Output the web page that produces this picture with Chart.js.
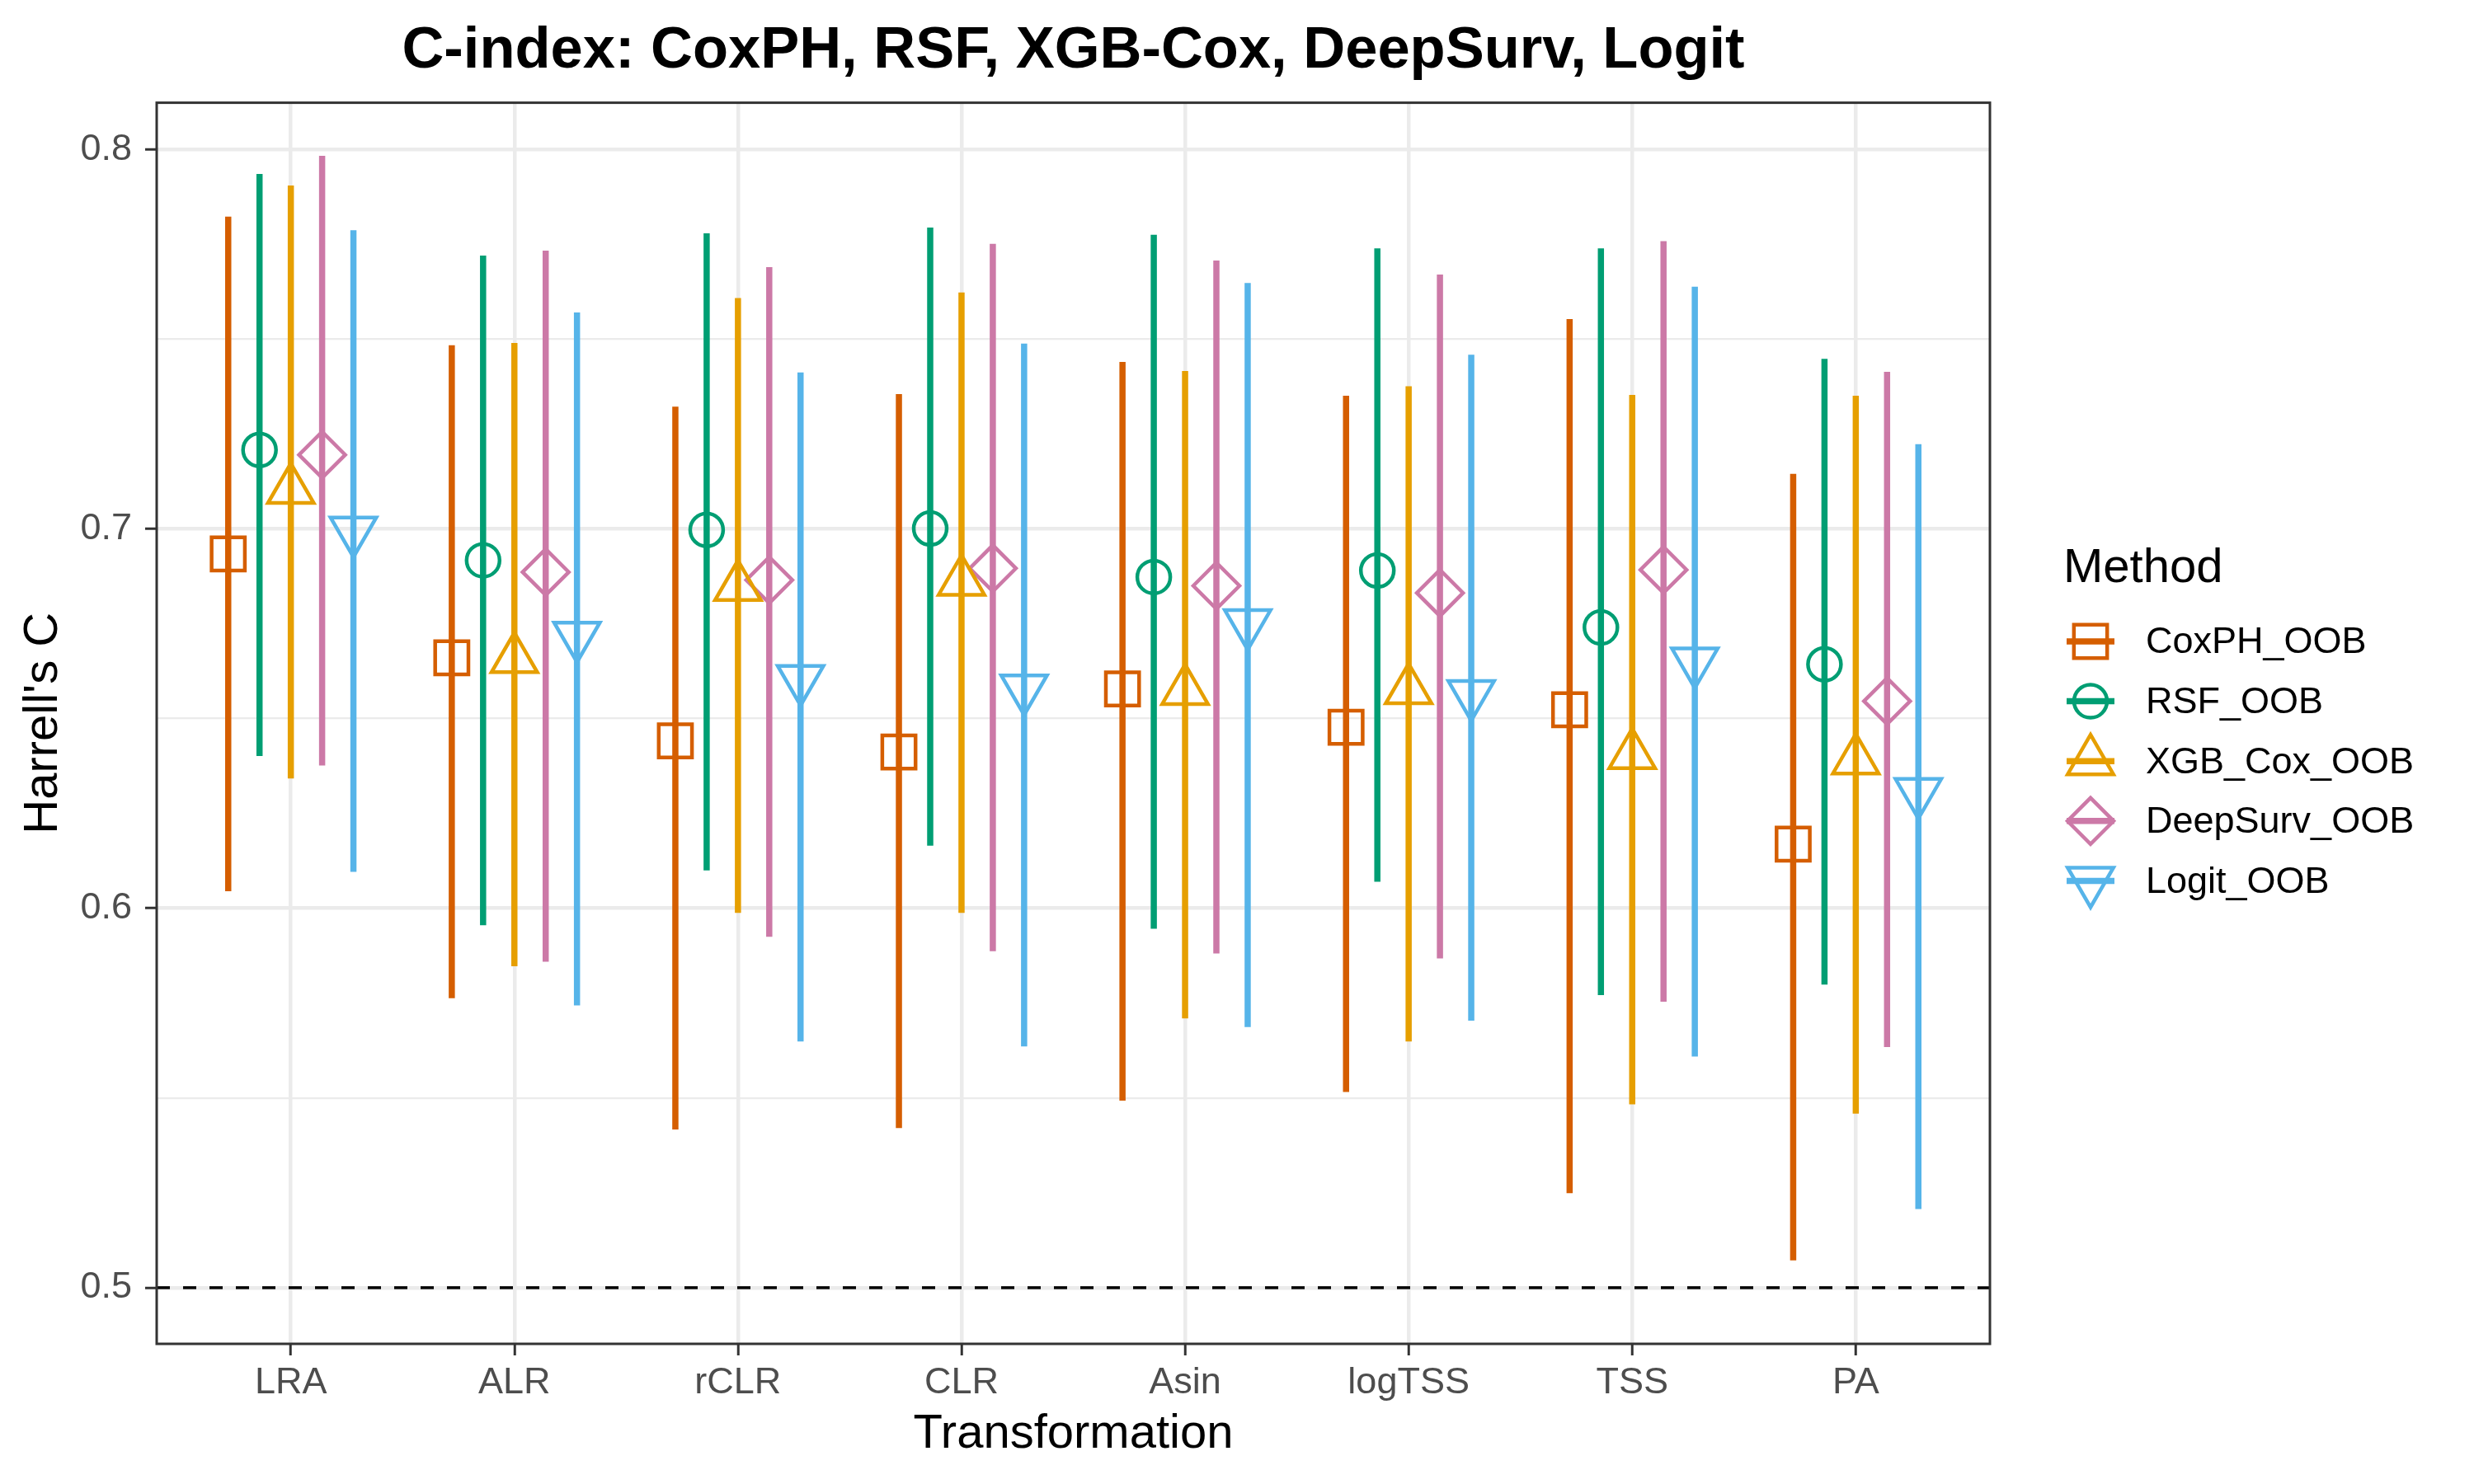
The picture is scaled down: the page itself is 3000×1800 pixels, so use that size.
<!DOCTYPE html>
<html>
<head>
<meta charset="utf-8">
<script src="https://cdn.jsdelivr.net/npm/chart.js@4.4.1/dist/chart.umd.min.js"></script>
<style>
  html, body { margin: 0; padding: 0; background: #ffffff; }
  canvas { display: block; }
</style>
</head>
<body>
<canvas id="c" width="3000" height="1800"></canvas>
<script>
// ---- data ----
const categories = ['LRA', 'ALR', 'rCLR', 'CLR', 'Asin', 'logTSS', 'TSS', 'PA'];
const methods = ['CoxPH_OOB', 'RSF_OOB', 'XGB_Cox_OOB', 'DeepSurv_OOB', 'Logit_OOB'];

const coxphC    = [0.6934, 0.6660, 0.6441, 0.6412, 0.6578, 0.6477, 0.6523, 0.6169];
const coxphLow  = [0.6045, 0.5763, 0.5417, 0.5421, 0.5493, 0.5516, 0.5249, 0.5072];
const coxphHigh = [0.7823, 0.7484, 0.7322, 0.7355, 0.7440, 0.7351, 0.7553, 0.7145];

const rsfC    = [0.7208, 0.6917, 0.6997, 0.7001, 0.6873, 0.6890, 0.6740, 0.6643];
const rsfLow  = [0.6401, 0.5955, 0.6100, 0.6165, 0.5946, 0.6070, 0.5771, 0.5799];
const rsfHigh = [0.7935, 0.7720, 0.7779, 0.7794, 0.7775, 0.7739, 0.7739, 0.7448];

const xgbC    = [0.7103, 0.6657, 0.6847, 0.6861, 0.6573, 0.6575, 0.6404, 0.6390];
const xgbLow  = [0.6342, 0.5847, 0.5988, 0.5988, 0.5710, 0.5649, 0.5483, 0.5459];
const xgbHigh = [0.7905, 0.7490, 0.7608, 0.7623, 0.7416, 0.7376, 0.7353, 0.7351];

const deepC    = [0.7195, 0.6886, 0.6865, 0.6896, 0.6850, 0.6831, 0.6892, 0.6546];
const deepLow  = [0.6376, 0.5859, 0.5925, 0.5887, 0.5881, 0.5868, 0.5754, 0.5634];
const deepHigh = [0.7983, 0.7733, 0.7690, 0.7751, 0.7707, 0.7670, 0.7758, 0.7414];

const logitC    = [0.6995, 0.6718, 0.6604, 0.6579, 0.6751, 0.6564, 0.6650, 0.6306];
const logitLow  = [0.6096, 0.5744, 0.5649, 0.5636, 0.5687, 0.5704, 0.5609, 0.5207];
const logitHigh = [0.7787, 0.7570, 0.7412, 0.7488, 0.7648, 0.7459, 0.7638, 0.7223];

const yTickValues = [0.5, 0.6, 0.7, 0.8];
const yTickLabels = ['0.5', '0.6', '0.7', '0.8'];
const yMinorValues = [0.55, 0.65, 0.75];
const refLine = 0.5;

// ---- styling ----
const FONT = "'Liberation Sans', Arial, sans-serif";
const colors = ['#D55E00', '#009E73', '#E69F00', '#CC79A7', '#56B4E9'];
const shapes = [
  { pointStyle: 'rect',     radius: 28.5, rotation: 0 },
  { pointStyle: 'circle',   radius: 20,   rotation: 0 },
  { pointStyle: 'triangle', radius: 32,   rotation: 0 },
  { pointStyle: 'rectRot',  radius: 28,   rotation: 0 },
  { pointStyle: 'triangle', radius: 32,   rotation: 180 }
];
const dodgeStep = 0.14;
const barWidth = 7.5;
const markerStroke = 4.5;

const est  = [coxphC, rsfC, xgbC, deepC, logitC];
const low  = [coxphLow, rsfLow, xgbLow, deepLow, logitLow];
const high = [coxphHigh, rsfHigh, xgbHigh, deepHigh, logitHigh];

const isMajor = v => yTickValues.some(t => Math.abs(t - v) < 1e-6);

// vertical ranges: one broken line per method (null breaks the segment)
const datasets = [];
methods.forEach((m, k) => {
  const off = (k - 2) * dodgeStep;
  const pts = [];
  categories.forEach((c, i) => {
    pts.push({ x: i + off, y: low[k][i] });
    pts.push({ x: i + off, y: high[k][i] });
    pts.push({ x: i + off, y: null });
  });
  datasets.push({
    label: m + ' range',
    data: pts,
    showLine: true,
    spanGaps: false,
    borderColor: colors[k],
    borderWidth: barWidth,
    borderCapStyle: 'butt',
    pointRadius: 0,
    pointHoverRadius: 0,
    order: 2
  });
  datasets.push({
    label: m,
    data: categories.map((c, i) => ({ x: i + off, y: est[k][i] })),
    showLine: false,
    pointStyle: shapes[k].pointStyle,
    pointRadius: shapes[k].radius,
    pointHoverRadius: shapes[k].radius,
    pointRotation: shapes[k].rotation,
    pointBorderColor: colors[k],
    pointBackgroundColor: 'rgba(0,0,0,0)',
    pointBorderWidth: markerStroke,
    order: 1
  });
});

// dashed reference line at 0.5
datasets.push({
  label: 'ref',
  data: [{ x: -0.6, y: refLine }, { x: categories.length - 0.4, y: refLine }],
  showLine: true,
  borderColor: '#000000',
  borderWidth: 3.5,
  borderDash: [16, 16],
  pointRadius: 0,
  order: 3
});

// panel border + ggplot-like legend
const panelAndLegend = {
  id: 'panelAndLegend',
  afterDraw(chart) {
    const { ctx, chartArea: a } = chart;
    ctx.save();
    ctx.strokeStyle = '#333333';
    ctx.lineWidth = 3;
    ctx.strokeRect(a.left, a.top, a.right - a.left, a.bottom - a.top);

    ctx.fillStyle = '#000000';
    ctx.font = '58px ' + FONT;
    ctx.textBaseline = 'alphabetic';
    ctx.textAlign = 'left';
    ctx.fillText('Method', 2502, 706);

    methods.forEach((m, k) => {
      const y = 778 + k * 72.6;
      const x = 2535;
      ctx.strokeStyle = colors[k];
      ctx.lineWidth = barWidth;
      ctx.lineCap = 'butt';
      ctx.beginPath();
      ctx.moveTo(x - 29, y);
      ctx.lineTo(x + 29, y);
      ctx.stroke();
      ctx.fillStyle = 'rgba(0,0,0,0)';
      ctx.lineWidth = markerStroke;
      if (Chart.helpers && Chart.helpers.drawPoint) {
        Chart.helpers.drawPoint(ctx, {
          pointStyle: shapes[k].pointStyle,
          radius: shapes[k].radius,
          rotation: shapes[k].rotation,
          borderWidth: markerStroke
        }, x, y);
      }
      ctx.fillStyle = '#000000';
      ctx.font = '45px ' + FONT;
      ctx.textBaseline = 'middle';
      ctx.fillText(m, 2602, y + 2);
    });
    ctx.restore();
  }
};

new Chart(document.getElementById('c'), {
  type: 'scatter',
  data: { datasets },
  plugins: [panelAndLegend],
  options: {
    responsive: false,
    devicePixelRatio: 1,
    animation: false,
    events: [],
    layout: { padding: { left: 0, right: 587, top: 0, bottom: 0 } },
    plugins: {
      legend: { display: false },
      tooltip: { enabled: false },
      title: {
        display: true,
        fullSize: false,
        text: 'C-index: CoxPH, RSF, XGB-Cox, DeepSurv, Logit',
        color: '#000000',
        font: { family: FONT, size: 70.5, weight: 'bold' },
        padding: { top: 20, bottom: 20 }
      }
    },
    scales: {
      x: {
        type: 'linear',
        min: -0.6,
        max: categories.length - 0.4,
        afterFit: s => { s.height = 170; },
        afterBuildTicks: s => { s.ticks = categories.map((c, i) => ({ value: i })); },
        border: { display: false },
        grid: {
          color: '#EBEBEB',
          lineWidth: 4.5,
          tickColor: '#333333',
          tickWidth: 3,
          tickLength: 14
        },
        ticks: {
          autoSkip: false,
          maxRotation: 0,
          padding: 7,
          color: '#4D4D4D',
          font: { family: FONT, size: 45 },
          callback: v => categories[Math.round(v)]
        },
        title: {
          display: true,
          text: 'Transformation',
          color: '#000000',
          font: { family: FONT, size: 58 },
          padding: { top: 0, bottom: 25 }
        }
      },
      y: {
        type: 'linear',
        min: 0.4852,
        max: 0.8123,
        afterFit: s => { s.width = 190; },
        afterBuildTicks: s => {
          s.ticks = yTickValues.concat(yMinorValues).sort((a, b) => a - b).map(v => ({ value: v }));
        },
        border: { display: false },
        grid: {
          color: '#EBEBEB',
          lineWidth: c => isMajor(c.tick.value) ? 4.5 : 2.3,
          tickColor: c => isMajor(c.tick.value) ? '#333333' : 'rgba(0,0,0,0)',
          tickWidth: 3,
          tickLength: 14
        },
        ticks: {
          autoSkip: false,
          padding: 16,
          color: '#4D4D4D',
          font: { family: FONT, size: 45 },
          callback: v => {
            const i = yTickValues.findIndex(t => Math.abs(t - v) < 1e-6);
            return i >= 0 ? yTickLabels[i] : '';
          }
        },
        title: {
          display: true,
          text: "Harrell's C",
          color: '#000000',
          font: { family: FONT, size: 58 },
          padding: { top: 18, bottom: 0 }
        }
      }
    }
  }
});
</script>
</body>
</html>
